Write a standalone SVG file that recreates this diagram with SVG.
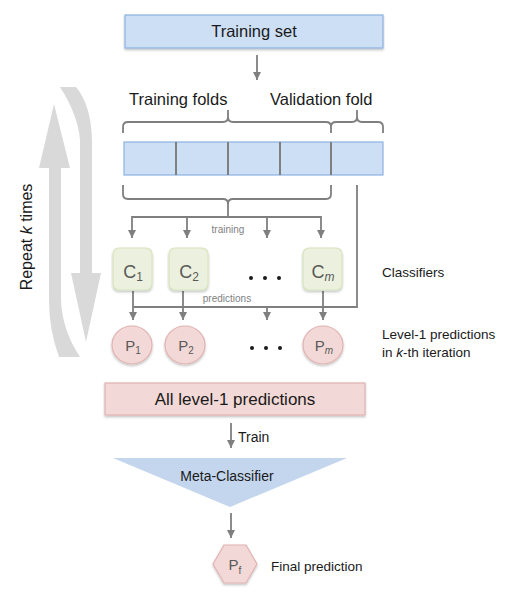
<svg xmlns="http://www.w3.org/2000/svg" width="527" height="604" viewBox="0 0 527 604">
<defs>
<marker id="ah" markerUnits="userSpaceOnUse" markerWidth="9" markerHeight="9" refX="8" refY="4" orient="auto">
<path d="M0,0 L8,4 L0,8 Z" fill="#7f7f7f"/>
</marker>
<filter id="sh" x="-10%" y="-10%" width="120%" height="140%">
<feDropShadow dx="0" dy="1.5" stdDeviation="1" flood-color="#000" flood-opacity="0.25"/>
</filter>
<style>
text{font-family:"Liberation Sans",Arial,sans-serif;fill:#1a1a1a}
.blue{fill:#cddff5;stroke:#8db3e2;stroke-width:1.2}
.green{fill:#ebf1de;stroke:#d7e4bd;stroke-width:1.2}
.pink{fill:#f2d8d6;stroke:#e0b3b1;stroke-width:1.2}
.ln{fill:none;stroke:#7f7f7f;stroke-width:1.8}
.arr{fill:none;stroke:#7f7f7f;stroke-width:1.8;marker-end:url(#ah)}
.lab{font-size:13.5px}
.sm{font-size:10px;fill:#7f7f7f}
.cl{font-size:18px;fill:#595959}
.pl{font-size:15px;fill:#595959}
.dot{fill:#1a1a1a}
</style>
</defs>

<g id="repeat">
<path d="M54,104 L70,168 L61,168 L61,300 Q62,330 80,357 L59,357 Q49,330 49,300 L49,168 L39,168 Z" fill="#d9d9d9"/>
<path d="M60,87 L76,87 Q91,105 92,140 L92,273 L101,273 L86,342 L71,273 L80,273 L80,140 Q78,115 60,87 Z" fill="#d9d9d9"/>
<text transform="translate(32,237) rotate(-90)" text-anchor="middle" font-size="16">Repeat <tspan font-style="italic">k</tspan> times</text>
</g>

<g id="training-set">
<rect x="125" y="15" width="258" height="33" class="blue" filter="url(#sh)"/>
<text x="254" y="37" text-anchor="middle" font-size="16.5">Training set</text>
</g>

<g id="fold-labels">
<text x="129" y="105" font-size="16.5">Training folds</text>
<text x="270" y="105" font-size="16.5">Validation fold</text>
</g>

<g id="folds">
<rect x="124" y="142" width="259" height="33" class="blue"/>
<path d="M176,142 V175 M228,142 V175 M280,142 V175 M331,142 V175" stroke="#7f7f7f" stroke-width="2" fill="none"/>
</g>

<g id="connectors">
<line x1="257" y1="55" x2="257" y2="80" class="arr"/>
<!-- top braces -->
<path d="M123,133 V127 Q123,122 128,122 H223 Q228,122 228,117 V110 M228,117 Q228,122 233,122 H326 Q331,122 331,127 V133" class="ln"/>
<path d="M331,127 Q331,122 336,122 H352 Q357,122 357,117 V110 M357,117 Q357,122 362,122 H378 Q383,122 383,127 V133" class="ln"/>
<!-- bottom brace -->
<path d="M123,185 V194 Q123,199 128,199 H223 Q228,199 228,204 V217 M228,204 Q228,199 233,199 H326 Q331,199 331,194 V185" class="ln"/>
<line x1="132" y1="217" x2="321" y2="217" class="ln"/>
<line x1="132" y1="216" x2="132" y2="238" class="arr"/>
<line x1="187" y1="217" x2="187" y2="238" class="arr"/>
<line x1="267" y1="217" x2="267" y2="238" class="arr"/>
<line x1="321" y1="216" x2="321" y2="238" class="arr"/>
<text x="228" y="233" text-anchor="middle" class="sm">training</text>
<!-- validation path -->
<path d="M357,185 V307 H133" class="ln"/>
<line x1="133" y1="291" x2="133" y2="320" class="arr"/>
<line x1="183" y1="291" x2="183" y2="320" class="arr"/>
<line x1="267" y1="307" x2="267" y2="320" class="arr"/>
<line x1="323" y1="291" x2="323" y2="320" class="arr"/>
<text x="227" y="302" text-anchor="middle" class="sm">predictions</text>
<line x1="231" y1="423" x2="231" y2="448" class="arr"/>
<line x1="231" y1="513" x2="231" y2="538" class="arr"/>
</g>

<g id="c1">
<rect x="113" y="248" width="39" height="42" rx="6" class="green" filter="url(#sh)"/>
<text x="133" y="278" text-anchor="middle" class="cl">C<tspan font-size="12" dy="3">1</tspan></text>
</g>
<g id="c2">
<rect x="169" y="248" width="39" height="42" rx="6" class="green" filter="url(#sh)"/>
<text x="189" y="278" text-anchor="middle" class="cl">C<tspan font-size="12" dy="3">2</tspan></text>
</g>
<g id="cdots">
<circle cx="251" cy="278" r="2" class="dot"/><circle cx="265" cy="278" r="2" class="dot"/><circle cx="279" cy="278" r="2" class="dot"/>
</g>
<g id="cm">
<rect x="303" y="248" width="39" height="42" rx="6" class="green" filter="url(#sh)"/>
<text x="323" y="278" text-anchor="middle" class="cl">C<tspan font-size="12" dy="3" font-style="italic">m</tspan></text>
</g>
<g id="classifiers-label">
<text x="382" y="277" class="lab">Classifiers</text>
</g>

<g id="p1">
<ellipse cx="132" cy="345" rx="20" ry="19" class="pink" filter="url(#sh)"/>
<text x="133" y="351" text-anchor="middle" class="pl">P<tspan font-size="10" dy="3">1</tspan></text>
</g>
<g id="p2">
<ellipse cx="185" cy="345" rx="20" ry="19" class="pink" filter="url(#sh)"/>
<text x="186" y="351" text-anchor="middle" class="pl">P<tspan font-size="10" dy="3">2</tspan></text>
</g>
<g id="pdots">
<circle cx="252" cy="348" r="2" class="dot"/><circle cx="266" cy="348" r="2" class="dot"/><circle cx="280" cy="348" r="2" class="dot"/>
</g>
<g id="pm">
<ellipse cx="323" cy="345" rx="20" ry="19" class="pink" filter="url(#sh)"/>
<text x="324" y="351" text-anchor="middle" class="pl">P<tspan font-size="10" dy="3" font-style="italic">m</tspan></text>
</g>
<g id="level1-label">
<text x="382" y="339" class="lab">Level-1 predictions</text>
<text x="382" y="357" class="lab">in <tspan font-style="italic">k</tspan>-th iteration</text>
</g>

<g id="all-level1">
<rect x="105" y="383" width="260" height="32" class="pink" filter="url(#sh)"/>
<text x="235" y="405" text-anchor="middle" font-size="17">All level-1 predictions</text>
</g>
<g id="train-label">
<text x="238" y="442" font-size="14">Train</text>
</g>

<g id="meta">
<polygon points="113,458 347,458 230,507" fill="#c3d6ee"/>
<text x="227" y="481" text-anchor="middle" font-size="14">Meta-Classifier</text>
</g>

<g id="pf">
<polygon points="213,564 224,545 246,545 257,564 246,583 224,583" class="pink" filter="url(#sh)"/>
<text x="235" y="570" text-anchor="middle" class="pl" font-size="16">P<tspan font-size="10" dy="4">f</tspan></text>
</g>
<g id="final-label">
<text x="271" y="571" class="lab">Final prediction</text>
</g>
</svg>
